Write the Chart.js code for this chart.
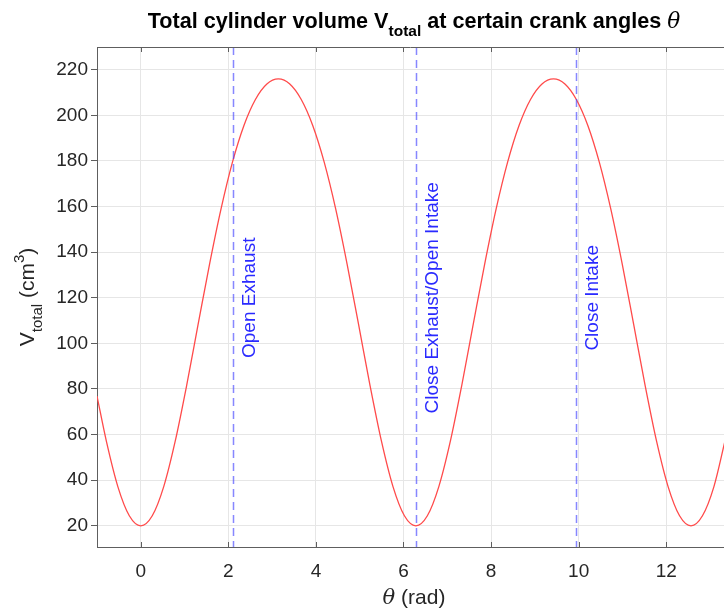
<!DOCTYPE html>
<html>
<head>
<meta charset="utf-8">
<script src="https://cdn.jsdelivr.net/npm/chart.js@4.4.0/dist/chart.umd.min.js"></script>
<style>
  html, body { margin: 0; padding: 0; background: #fff; overflow: hidden; }
  #wrap { width: 724px; height: 609px; }
</style>
</head>
<body>
<div id="wrap"><canvas id="volChart" width="724" height="609"></canvas></div>
<script>
// crank angle (rad) and total cylinder volume (cm^3)
const thetaRad = [
  -1.000, -0.785, -0.524, -0.262, 0.000, 0.262, 0.524, 0.785, 1.047, 1.309,
  1.571, 1.833, 2.094, 2.356, 2.618, 2.880, 3.142, 3.403, 3.665, 3.927,
  4.189, 4.451, 4.712, 4.974, 5.236, 5.498, 5.760, 6.021, 6.283, 6.545,
  6.807, 7.069, 7.330, 7.592, 7.854, 8.116, 8.378, 8.639, 8.901, 9.163,
  9.425, 9.687, 9.948, 10.210, 10.472, 10.734, 10.996, 11.257, 11.519, 11.781,
  12.043, 12.305, 12.566, 12.828, 13.090, 13.352
];
const volumeCm3 = [
  76.9, 57.0, 37.2, 24.4, 20.0, 24.4, 37.2, 57.0, 81.5, 108.3,
  134.8, 159.0, 179.5, 195.6, 207.0, 213.8, 216.0, 213.8, 207.0, 195.6,
  179.5, 159.0, 134.8, 108.3, 81.5, 57.0, 37.2, 24.4, 20.0, 24.4,
  37.2, 57.0, 81.5, 108.3, 134.8, 159.0, 179.5, 195.6, 207.0, 213.8,
  216.0, 213.8, 207.0, 195.6, 179.5, 159.0, 134.8, 108.3, 81.5, 57.0,
  37.2, 24.4, 20.0, 24.4, 37.2, 58.0
];

// valve events
const eventAngles = [2.11, 6.28, 9.95];
const eventLabels = ['Open Exhaust', 'Close Exhaust/Open Intake', 'Close Intake'];

const xTicks = [0, 2, 4, 6, 8, 10, 12];
const yTicks = [20, 40, 60, 80, 100, 120, 140, 160, 180, 200, 220];

const FONT = '"Liberation Sans", Arial, Helvetica, sans-serif';
const AXIS_GREY = '#5e5e5e';
const TEXT = '#262626';

// draw pieces of text [{t, font, dy}] left to right starting at x
function drawRuns(ctx, runs, x, y) {
  runs.forEach(r => {
    ctx.font = r.font;
    ctx.fillText(r.t, x, y + (r.dy || 0));
    x += ctx.measureText(r.t).width;
  });
}
function runsWidth(ctx, runs) {
  let w = 0;
  runs.forEach(r => { ctx.font = r.font; w += ctx.measureText(r.t).width; });
  return w;
}

const decorations = {
  id: 'decorations',
  afterDatasetsDraw(chart) {
    const { ctx, chartArea: a, scales: { x, y } } = chart;
    ctx.save();

    // valve event lines + labels
    ctx.beginPath();
    ctx.rect(a.left, a.top, a.right - a.left, a.bottom - a.top);
    ctx.clip();
    eventAngles.forEach((ang, i) => {
      const px = Math.round(x.getPixelForValue(ang)) + 0.5;
      ctx.strokeStyle = 'rgba(70,70,255,0.65)';
      ctx.lineWidth = 1.5;
      ctx.setLineDash([8, 5]);
      ctx.beginPath();
      ctx.moveTo(px, a.top);
      ctx.lineTo(px, a.bottom);
      ctx.stroke();
      ctx.setLineDash([]);

      ctx.save();
      ctx.translate(px + 16, y.getPixelForValue(120));
      ctx.rotate(-Math.PI / 2);
      ctx.fillStyle = '#2a2aff';
      ctx.font = '19px ' + FONT;
      ctx.textAlign = 'center';
      ctx.textBaseline = 'middle';
      ctx.fillText(eventLabels[i], 0, 0);
      ctx.restore();
    });
    ctx.restore();
    ctx.save();

    // top frame line and inward x ticks
    ctx.strokeStyle = AXIS_GREY;
    ctx.lineWidth = 1;
    ctx.beginPath();
    ctx.moveTo(a.left, a.top + 0.5);
    ctx.lineTo(a.right, a.top + 0.5);
    ctx.stroke();
    xTicks.forEach(v => {
      const px = Math.round(x.getPixelForValue(v)) + 0.5;
      ctx.beginPath();
      ctx.moveTo(px, a.bottom);
      ctx.lineTo(px, a.bottom - 5);
      ctx.moveTo(px, a.top);
      ctx.lineTo(px, a.top + 5);
      ctx.stroke();
    });

    // title
    ctx.fillStyle = '#000';
    ctx.textBaseline = 'alphabetic';
    ctx.textAlign = 'left';
    const titleRuns = [
      { t: 'Total cylinder volume V', font: 'bold 21.6px ' + FONT },
      { t: 'total', font: 'bold 15.5px ' + FONT, dy: 8 },
      { t: ' at certain crank angles ', font: 'bold 21.6px ' + FONT },
      { t: '\u03B8', font: 'italic 21.6px "DejaVu Serif", serif' }
    ];
    const cx = 414;
    drawRuns(ctx, titleRuns, cx - runsWidth(ctx, titleRuns) / 2, 28);

    // x axis title
    ctx.fillStyle = TEXT;
    const xRuns = [
      { t: '\u03B8', font: 'italic 21px "DejaVu Serif", serif' },
      { t: ' (rad)', font: '21px ' + FONT }
    ];
    drawRuns(ctx, xRuns, cx - runsWidth(ctx, xRuns) / 2, 604);

    // y axis title (rotated)
    const yRuns = [
      { t: 'V', font: '21px ' + FONT },
      { t: 'total', font: '15px ' + FONT, dy: 8 },
      { t: ' (cm', font: '21px ' + FONT },
      { t: '3', font: '15px ' + FONT, dy: -10 },
      { t: ')', font: '21px ' + FONT }
    ];
    ctx.translate(34, (a.top + a.bottom) / 2);
    ctx.rotate(-Math.PI / 2);
    drawRuns(ctx, yRuns, -runsWidth(ctx, yRuns) / 2, 0);
    ctx.restore();
  }
};

new Chart(document.getElementById('volChart'), {
  type: 'line',
  data: {
    datasets: [{
      data: thetaRad.map((t, i) => ({ x: t, y: volumeCm3[i] })),
      borderColor: '#ff4a4a',
      borderWidth: 1.3,
      pointRadius: 0,
      cubicInterpolationMode: 'monotone',
      fill: false
    }]
  },
  options: {
    responsive: false,
    animation: false,
    devicePixelRatio: 1,
    layout: { padding: { top: 47, right: 0, left: 0, bottom: 0 } },
    plugins: { legend: { display: false }, tooltip: { enabled: false }, title: { display: false } },
    scales: {
      x: {
        type: 'linear',
        min: -1,
        max: 13.32,
        afterBuildTicks: s => { s.ticks = xTicks.map(v => ({ value: v })); },
        afterFit: s => { s.height = 62; },
        grid: { color: '#e6e6e6', drawTicks: false },
        border: { color: AXIS_GREY, width: 1 },
        ticks: { color: TEXT, font: { family: FONT, size: 19 }, padding: 13, maxRotation: 0 }
      },
      y: {
        min: 10.7,
        max: 230,
        afterBuildTicks: s => { s.ticks = yTicks.map(v => ({ value: v })); },
        afterFit: s => { s.width = 97; },
        grid: { color: '#e6e6e6', drawTicks: true, tickLength: 6, tickColor: AXIS_GREY },
        border: { color: AXIS_GREY, width: 1 },
        ticks: { color: TEXT, font: { family: FONT, size: 19 }, padding: 3 }
      }
    }
  },
  plugins: [decorations]
});
</script>
</body>
</html>
